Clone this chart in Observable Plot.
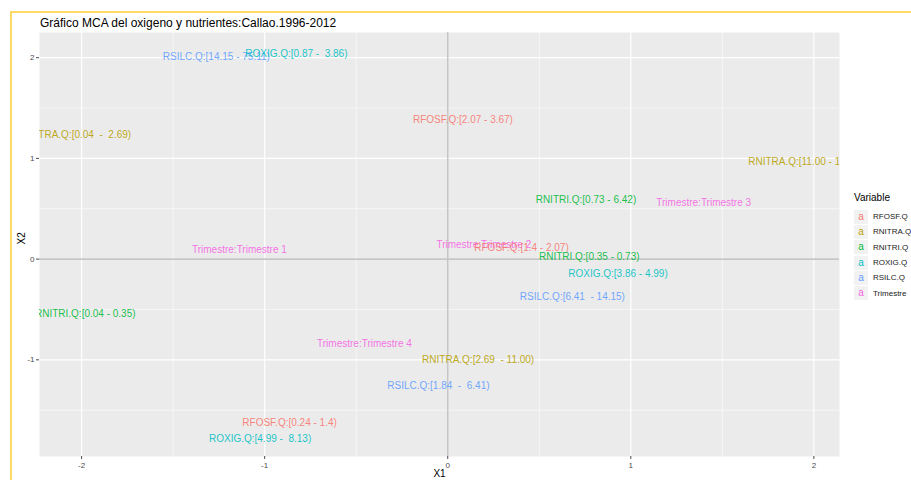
<!DOCTYPE html>
<html>
<head>
<meta charset="utf-8">
<script src="https://cdn.jsdelivr.net/npm/d3@7"></script>
<script src="https://cdn.jsdelivr.net/npm/@observablehq/plot@0.6"></script>
<style>
  body { margin: 0; background: #fff; font-family: "Liberation Sans", Arial, sans-serif; }
  #wrap { position: relative; width: 911px; height: 480px; overflow: hidden; }
  #frameLine { position: absolute; left: 10px; top: 11px; right: -5px; bottom: -5px;
    border-left: 2px solid #FFD966; border-top: 2px solid #FFD966; }
  #title { position: absolute; left: 40px; top: 15px; font-size: 12px; line-height: 16px; color: #000; white-space: pre; }
  #legend { position: absolute; left: 854px; top: 191px; }
  #legend .lt { font-size: 10px; line-height: 14px; color: #000; margin-bottom: 4px; }
  #legend .row { display: flex; align-items: center; height: 15.3px; }
  #legend .key { width: 14px; height: 14px; background: #F2F2F2; font-size: 10px; line-height: 14px; text-align: center; }
  #legend .lab { font-size: 8px; color: #222; margin-left: 5px; white-space: nowrap; }
  #plot { position: absolute; left: 0; top: 0; }
  svg text { white-space: pre; }
</style>
</head>
<body>
<div id="wrap">
  <div id="frameLine"></div>
  <div id="plot"></div>
  <div id="title">Gráfico MCA del oxigeno y nutrientes:Callao.1996-2012</div>
  <div id="legend"></div>
</div>
<script>
// ---- data ----
const labels = [
  "RSILC.Q:[14.15 - 75.11)",
  "ROXIG.Q:[0.87 -  3.86)",
  "RFOSF.Q:[2.07 - 3.67)",
  "RNITRA.Q:[0.04  -  2.69)",
  "RNITRA.Q:[11.00 - 18.61)",
  "RNITRI.Q:[0.73 - 6.42)",
  "Trimestre:Trimestre 3",
  "Trimestre:Trimestre 2",
  "RFOSF.Q:[1.4 - 2.07)",
  "RNITRI.Q:[0.35 - 0.73)",
  "ROXIG.Q:[3.86 - 4.99)",
  "RSILC.Q:[6.41  - 14.15)",
  "Trimestre:Trimestre 4",
  "RNITRA.Q:[2.69  - 11.00)",
  "RSILC.Q:[1.84  -  6.41)",
  "RFOSF.Q:[0.24 - 1.4)",
  "ROXIG.Q:[4.99 -  8.13)",
  "Trimestre:Trimestre 1",
  "RNITRI.Q:[0.04 - 0.35)"
];
const x1 = [-1.264, -0.827, 0.083, -2.03, 1.955, 0.755, 1.398, 0.197, 0.403, 0.773, 0.930, 0.681, -0.455, 0.166, -0.051, -0.864, -1.025, -1.138, -1.98];
const x2 = [2.005, 2.04, 1.386, 1.23, 0.97, 0.593, 0.557, 0.146, 0.116, 0.027, -0.149, -0.371, -0.841, -0.997, -1.259, -1.626, -1.785, 0.096, -0.543];
const variable = ["RSILC.Q", "ROXIG.Q", "RFOSF.Q", "RNITRA.Q", "RNITRA.Q", "RNITRI.Q", "Trimestre", "Trimestre", "RFOSF.Q", "RNITRI.Q", "ROXIG.Q", "RSILC.Q", "Trimestre", "RNITRA.Q", "RSILC.Q", "RFOSF.Q", "ROXIG.Q", "Trimestre", "RNITRI.Q"];
const variables = ["RFOSF.Q", "RNITRA.Q", "RNITRI.Q", "ROXIG.Q", "RSILC.Q", "Trimestre"];
const colors = ["#F8766D", "#B79F00", "#00BA38", "#00BFC4", "#619CFF", "#F564E3"];
const xTicks = [-2, -1, 0, 1, 2];
const yTicks = [-1, 0, 1, 2];
const xMinor = [-1.5, -0.5, 0.5, 1.5];
const yMinor = [-1.5, -0.5, 0.5, 1.5];

const data = labels.map((t, i) => ({label: t, X1: x1[i], X2: x2[i], Variable: variable[i]}));

const fmt = d => String(d);

const chart = Plot.plot({
  width: 911,
  height: 480,
  marginLeft: 39,
  marginRight: 72,
  marginTop: 32,
  marginBottom: 24,
  style: {fontFamily: "'Liberation Sans', Arial, sans-serif", background: "transparent", overflow: "visible"},
  x: {domain: [-2.23, 2.14]},
  y: {domain: [-1.96, 2.25]},
  color: {domain: variables, range: colors},
  marks: [
    Plot.frame({fill: "#EBEBEB", stroke: null}),
    Plot.gridX(xMinor, {stroke: "#fff", strokeOpacity: 1, strokeWidth: 0.6}),
    Plot.gridY(yMinor, {stroke: "#fff", strokeOpacity: 1, strokeWidth: 0.6}),
    Plot.gridX(xTicks, {stroke: "#fff", strokeOpacity: 1, strokeWidth: 1.2}),
    Plot.gridY(yTicks, {stroke: "#fff", strokeOpacity: 1, strokeWidth: 1.2}),
    Plot.ruleX([0], {stroke: "#c6c6c6", strokeWidth: 1.6}),
    Plot.ruleY([0], {stroke: "#c6c6c6", strokeWidth: 1.6}),
    Plot.axisX(xTicks, {tickSize: 3, tickPadding: 3, fontSize: 8, color: "#4d4d4d", tickFormat: fmt, label: null}),
    Plot.axisY(yTicks, {tickSize: 3, tickPadding: 2, fontSize: 8, color: "#4d4d4d", tickFormat: fmt, label: null}),
    Plot.text(["X1"], {frameAnchor: "bottom", dy: 20, text: d => d, fontSize: 10, fill: "#000"}),
    Plot.text(["X2"], {frameAnchor: "left", dx: -18, rotate: -90, text: d => d, fontSize: 10, fill: "#000"}),
    Plot.text(data, {x: "X1", y: "X2", text: "label", fill: "Variable", fillOpacity: 0.9, fontSize: 10, clip: "frame"})
  ]
});
document.getElementById("plot").appendChild(chart);

// legend
const lg = document.getElementById("legend");
const lt = document.createElement("div");
lt.className = "lt";
lt.textContent = "Variable";
lg.appendChild(lt);
variables.forEach((v, i) => {
  const row = document.createElement("div");
  row.className = "row";
  const key = document.createElement("div");
  key.className = "key";
  key.style.color = colors[i];
  key.textContent = "a";
  const lab = document.createElement("div");
  lab.className = "lab";
  lab.textContent = v;
  row.appendChild(key);
  row.appendChild(lab);
  lg.appendChild(row);
});
</script>
</body>
</html>
